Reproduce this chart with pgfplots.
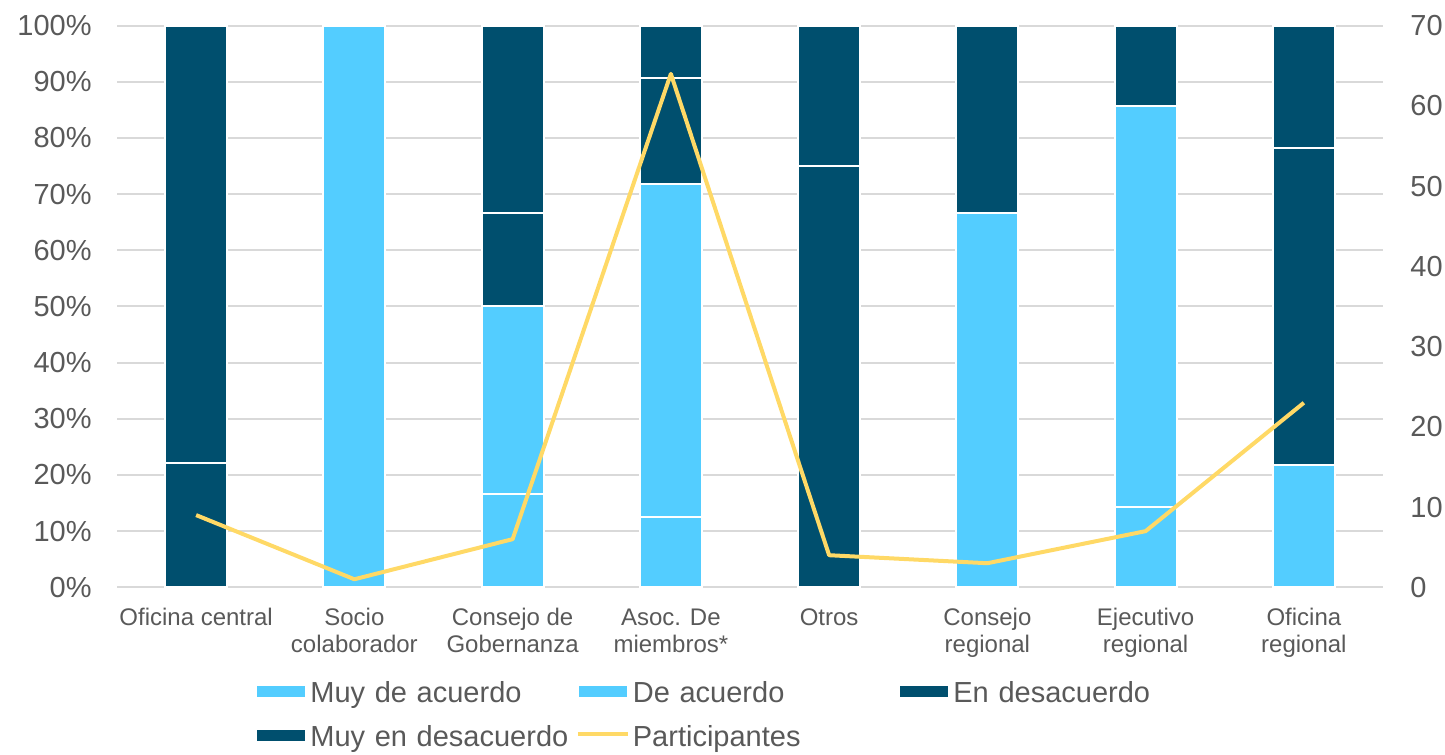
\documentclass[border=0pt]{standalone}
\usepackage{pgfplots}
\pgfplotsset{compat=1.18}
\usepackage{fontspec}
\setmainfont{Liberation Sans}

\definecolor{lightblue}{HTML}{53CDFF}
\definecolor{darkblue}{HTML}{004F6E}
\definecolor{partyellow}{HTML}{FFD966}
\definecolor{labelgray}{HTML}{595959}
\definecolor{gridgray}{HTML}{D9D9D9}

\pgfplotsset{
  common/.style={
    scale only axis, width=633bp, height=280.8bp,
    xmin=-0.5, xmax=7.5,
    axis line style={draw=none},
    major tick length=0pt,
    /pgf/number format/assume math mode=true,
    tick label style={font=\fontsize{14.5bp}{17bp}\selectfont, text=labelgray},
  },
  barlegend/.style={legend image code/.code={\fill[##1] (0bp,-1.75bp) rectangle (25bp,4.75bp);}},
  partlegend/.style={legend image code/.code={\draw[##1] (0bp,2bp) -- (25bp,2bp);}},
}

\begin{document}
\begin{tikzpicture}
\begin{axis}[
  common,
  ybar stacked, bar width=31bp,
  ymin=0, ymax=100, ytick={0,10,...,100},
  yticklabel={\pgfmathprintnumber{\tick}\%},
  yticklabel style={inner sep=0pt, anchor=east, xshift=-12.5bp},
  ymajorgrids, grid style={gridgray, line width=1bp},
  xtick={0,...,7},
  xticklabels={\strut Oficina central, {\strut Socio\\colaborador}, {\strut Consejo de\\Gobernanza}, {\strut Asoc. De\\miembros*}, \strut Otros, {\strut Consejo\\regional}, {\strut Ejecutivo\\regional}, {\strut Oficina\\regional}},
  xticklabel style={font=\fontsize{12bp}{13.5bp}\selectfont, align=center, inner sep=0pt, anchor=north, yshift=-9.45bp},
  barlegend,
  legend columns=3,
  legend style={at={(0,0)}, anchor=north west, xshift=69bp, yshift=-46.2bp,
    draw=none, fill=none, inner sep=0pt, row sep=8bp, column sep=0pt,
    font=\fontsize{14.5bp}{17bp}\selectfont, text=labelgray,
    nodes={inner sep=0pt, text height=11bp, text depth=3bp},
    /tikz/every even column/.append style={text width=132.75bp, align=left},
    /tikz/every odd column/.append style={column sep=1.5bp}},
]
% Muy de acuerdo
\addplot[fill=lightblue, draw=white, line width=1bp] coordinates {(0,0) (1,0) (2,16.67) (3,12.5) (4,0) (5,0) (6,14.29) (7,0)};
% De acuerdo
\addplot[fill=lightblue, draw=white, line width=1bp] coordinates {(0,0) (1,100) (2,33.33) (3,59.38) (4,0) (5,66.67) (6,71.43) (7,21.74)};
% En desacuerdo
\addplot[fill=darkblue, draw=white, line width=1bp] coordinates {(0,22.22) (1,0) (2,16.67) (3,18.75) (4,75) (5,0) (6,0) (7,56.52)};
% Muy en desacuerdo
\addplot[fill=darkblue, draw=white, line width=1bp] coordinates {(0,77.78) (1,0) (2,33.33) (3,9.37) (4,25) (5,33.33) (6,14.29) (7,21.74)};
\addlegendimage{partyellow, line width=2bp, partlegend}
\legend{Muy de acuerdo, De acuerdo, En desacuerdo, Muy en desacuerdo, Participantes}
\end{axis}

\begin{axis}[
  common,
  ymin=0, ymax=70, ytick={0,10,...,70},
  xtick=\empty,
  ytick pos=right, yticklabel pos=right,
  yticklabel style={inner sep=0pt, anchor=west, xshift=13.5bp},
]
\addplot[partyellow, line width=2bp, line join=round] coordinates {(0,9) (1,1) (2,6) (3,64) (4,4) (5,3) (6,7) (7,23)};
\end{axis}
\pgfresetboundingbox
\useasboundingbox (-58.5bp,-83.85bp) rectangle (664bp,293.65bp);
\end{tikzpicture}
\end{document}
